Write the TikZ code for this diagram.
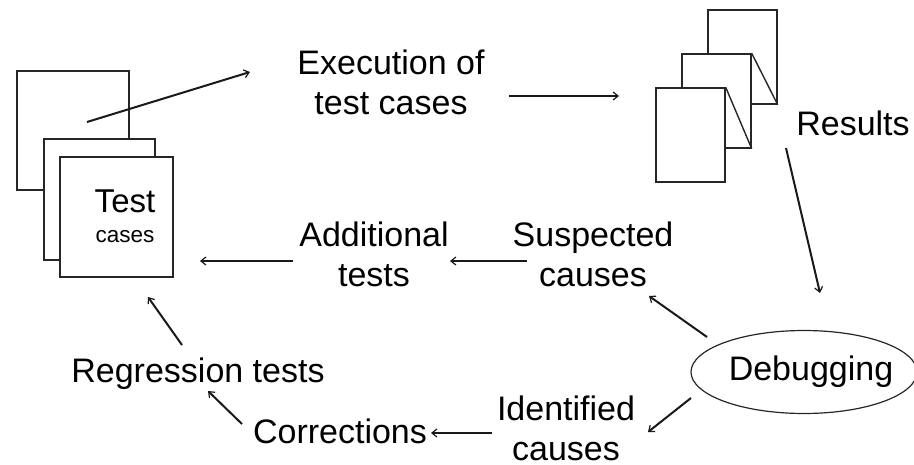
\documentclass[tikz,border=0pt]{standalone}
\usepackage{fontspec}
\setmainfont{Liberation Sans}
\usetikzlibrary{arrows.meta,shapes.geometric}
\tikzset{
  page/.style={draw=black!85, line width=1.4pt, fill=white, inner sep=0pt},
  lbl/.style={inner sep=0pt, align=center, text=black, font=\fontsize{34}{40}\selectfont},
  arr/.style={draw=black!90, line width=2pt, -{Straight Barb[length=5pt,width=8pt,line width=1.2pt]}},
  fold/.style={draw=black!85, line width=1.4pt},
}
\begin{document}
\begin{tikzpicture}[x=1pt,y=-1pt]
\useasboundingbox (0,0) rectangle (914,464);
% left stack of pages (test cases)
\node[page, minimum width=112pt, minimum height=119pt] (tb) at (73,130.5) {};
\node[page, minimum width=111pt, minimum height=121pt] (tm) at (99.5,199.5) {};
\node[page, minimum width=113pt, minimum height=120pt] (tf) at (116.5,217) {};
\node[inner sep=0pt, align=center, text=black, font=\fontsize{22.5}{30}\selectfont] (tc) at (125,216)
  {{\fontsize{33}{30}\selectfont Test}\\cases};
% right stack of pages (results)
\node[page, minimum width=69pt, minimum height=94pt] (rb) at (742.5,57) {};
\node[page, minimum width=69pt, minimum height=94pt] (rm) at (716.5,101) {};
\node[page, minimum width=69pt, minimum height=94pt] (rf) at (690.5,135) {};
\draw[fold] (rm.north east) -- (rb.south east);
\draw[fold] (rf.north east) -- (rm.south east);
% labels
\node[lbl] (exec) at (391,82) {Execution of\\test cases};
\node[lbl, anchor=base] (res) at (853,135) {Results};
\node[draw=black!85, line width=1.2pt, ellipse, minimum width=226pt, minimum height=83pt,
      inner sep=0pt, text=black, font=\fontsize{34}{40}\selectfont] (dbg) at (804,372)
      {\makebox[0pt]{\hspace*{14pt}Debugging}};
\node[lbl] (susp) at (593,254) {Suspected\\causes};
\node[lbl] (addl) at (374,254) {Additional\\tests};
\node[lbl] (ident) at (566,428) {Identified\\causes};
\node[lbl, anchor=base] (corr) at (340,443) {Corrections};
\node[lbl, anchor=base] (regr) at (198,382) {Regression tests};
% connector end points
\coordinate (a1s) at (87,122);  \coordinate (a1e) at (250,72);
\coordinate (a2s) at (509,96);  \coordinate (a2e) at (619,96);
\coordinate (a3s) at (786,148); \coordinate (a3e) at (820,293);
\coordinate (a4s) at (707,337); \coordinate (a4e) at (649,296);
\coordinate (a5s) at (527,261); \coordinate (a5e) at (450,261);
\coordinate (a6s) at (293,261); \coordinate (a6e) at (200,261);
\coordinate (a7s) at (691,398); \coordinate (a7e) at (648,432);
\coordinate (a8s) at (492,433); \coordinate (a8e) at (431,433);
\coordinate (a9s) at (242,424); \coordinate (a9e) at (208,391);
\coordinate (a10s) at (182,345); \coordinate (a10e) at (148,297);
% connectors
\draw[arr] (a1s) -- (a1e);
\draw[arr] (a2s) -- (a2e);
\draw[arr] (a3s) -- (a3e);
\draw[arr] (a4s) -- (a4e);
\draw[arr] (a5s) -- (a5e);
\draw[arr] (a6s) -- (a6e);
\draw[arr] (a7s) -- (a7e);
\draw[arr] (a8s) -- (a8e);
\draw[arr] (a9s) -- (a9e);
\draw[arr] (a10s) -- (a10e);
\end{tikzpicture}
\end{document}
